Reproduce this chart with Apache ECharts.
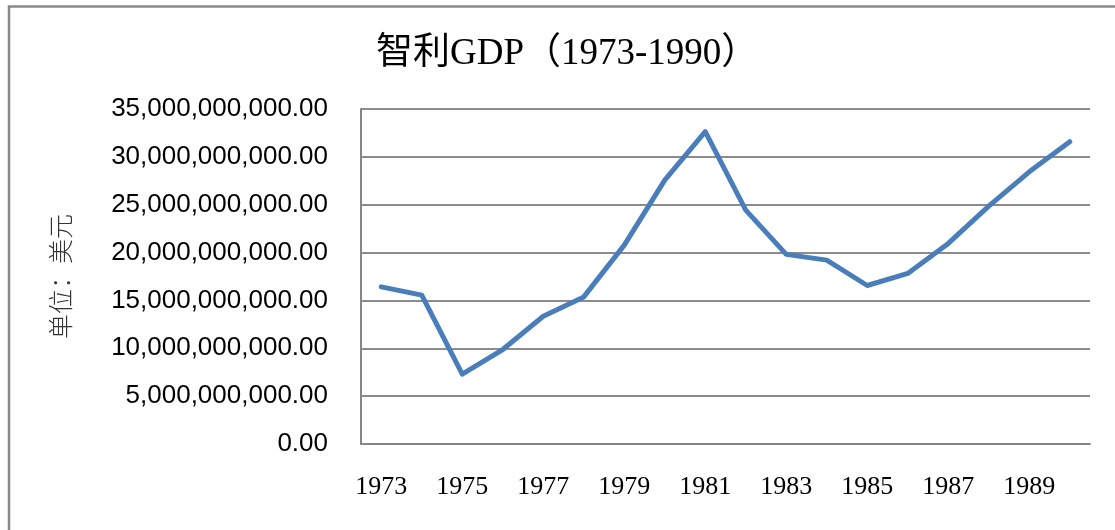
<!DOCTYPE html>
<html>
<head>
<meta charset="utf-8">
<script src="https://cdn.jsdelivr.net/npm/echarts@6/dist/echarts.min.js"></script>
<style>
html,body{margin:0;padding:0;background:#fff;}
#chart{width:1115px;height:530px;}
</style>
</head>
<body>
<div id="chart"></div>
<script>
const titleText = '智利GDP（1973-1990）';
const yAxisName = '单位：美元';
const years = ['1973','1974','1975','1976','1977','1978','1979','1980','1981','1982','1983','1984','1985','1986','1987','1988','1989','1990'];
const gdp = [16.42e9, 15.55e9, 7.29e9, 9.87e9, 13.35e9, 15.37e9, 20.78e9, 27.57e9, 32.63e9, 24.44e9, 19.81e9, 19.21e9, 16.56e9, 17.82e9, 20.96e9, 24.86e9, 28.44e9, 31.58e9];
const yMin = 0, yMax = 35e9, yStep = 5e9;

function fmt(v){
  return Number(v).toLocaleString('en-US',{minimumFractionDigits:2,maximumFractionDigits:2});
}

const chart = echarts.init(document.getElementById('chart'));
chart.setOption({
  animation:false,
  backgroundColor:'#ffffff',
  title:{
    text:titleText,
    left:371,
    top:31,
    textStyle:{fontFamily:'"Liberation Serif","Noto Sans CJK SC",serif',fontSize:37,fontWeight:'normal',color:'#000'}
  },
  graphic:[{
    type:'rect',
    shape:{x:9,y:6.5,width:1200,height:1000},
    style:{fill:'none',stroke:'#898989',lineWidth:2.5},
    silent:true
  }],
  grid:{left:361,top:109,right:25,bottom:86,containLabel:false},
  xAxis:{
    type:'category',
    data:years,
    boundaryGap:true,
    axisLine:{show:true,lineStyle:{color:'#868686',width:2}},
    axisTick:{show:false},
    axisLabel:{interval:1,margin:30,fontFamily:'"Liberation Serif",serif',fontSize:26,color:'#000'}
  },
  yAxis:{
    type:'value',
    min:yMin,max:yMax,interval:yStep,
    name:yAxisName,
    nameLocation:'middle',
    nameRotate:90,
    nameGap:288,
    nameTextStyle:{fontFamily:'"Noto Sans CJK SC",sans-serif',fontSize:25,color:'#333',fontWeight:300},
    axisLine:{show:true,lineStyle:{color:'#868686',width:2}},
    axisTick:{show:false},
    splitLine:{show:true,lineStyle:{color:'#8c8c8c',width:2}},
    axisLabel:{margin:33,fontFamily:'"Liberation Sans",Arial,sans-serif',fontSize:26,color:'#000',formatter:fmt}
  },
  series:[{
    type:'line',
    data:gdp,
    showSymbol:false,
    symbol:'none',
    lineStyle:{color:'#4a7ebb',width:5,cap:'round',join:'round'},
    itemStyle:{color:'#4a7ebb'}
  }]
});
</script>
</body>
</html>
